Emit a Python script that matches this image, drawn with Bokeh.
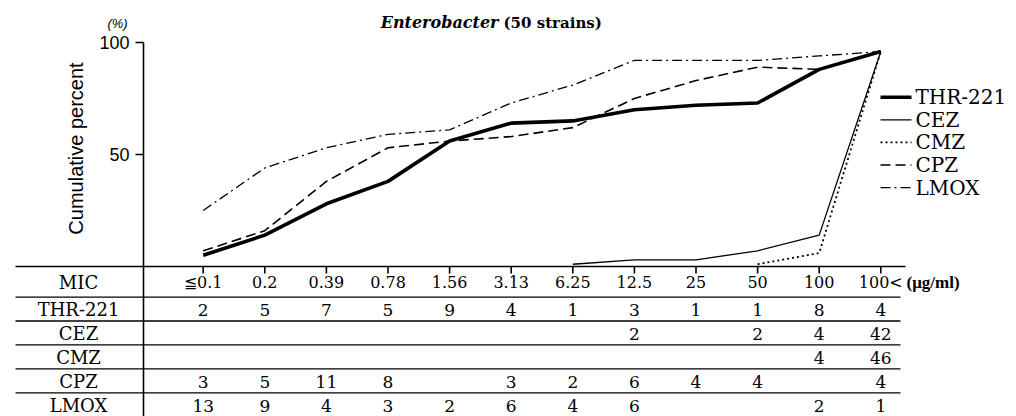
from bokeh.plotting import figure
from bokeh.models import Range1d
from bokeh.core.properties import value
from bokeh.embed import file_html
from bokeh.resources import INLINE
import math

# ---------------- data ----------------
categories = ["≦0.1", "0.2", "0.39", "0.78", "1.56", "3.13", "6.25", "12.5", "25", "50", "100", "100<"]
series_names = ["THR-221", "CEZ", "CMZ", "CPZ", "LMOX"]

# cumulative percent
thr_pct = [5, 14, 28, 38, 56, 64, 65, 70, 72, 73, 88, 96]
cez_pct = [None, None, None, None, None, None, 1, 3, 3, 7, 14, 96]
cmz_pct = [None, None, None, None, None, None, None, None, None, 1, 6, 96]
cpz_pct = [7, 16, 38, 53, 56, 58, 62, 75, 83, 89, 88, 96]
lmox_pct = [25, 44, 53, 59, 61, 73, 81, 92, 92, 92, 94, 96]

# number of strains per MIC (table)
thr_n = [2, 5, 7, 5, 9, 4, 1, 3, 1, 1, 8, 4]
cez_n = [None, None, None, None, None, None, None, 2, None, 2, 4, 42]
cmz_n = [None, None, None, None, None, None, None, None, None, None, 4, 46]
cpz_n = [3, 5, 11, 8, None, 3, 2, 6, 4, 4, None, 4]
lmox_n = [13, 9, 4, 3, 2, 6, 4, 6, None, None, 2, 1]

y_ticks = [50, 100]

# ---------------- layout ----------------
W, H = 1016, 416
X0, S = 202.7, 61.6      # pixel x of first category, spacing
Y0, K = 266.0, 2.24      # pixel y of 0 %, pixels per percent


def dx(px):
    return (px - X0) / S


def dy(py):
    return (Y0 - py) / K


p = figure(width=W, height=H, x_range=Range1d(dx(0), dx(W)), y_range=Range1d(dy(H), dy(0)),
           x_axis_type=None, y_axis_type=None, toolbar_location=None, output_backend="svg",
           min_border=0, min_border_left=0, min_border_right=0, min_border_top=0, min_border_bottom=0)
p.grid.visible = False
p.outline_line_color = None
p.background_fill_color = "white"
p.border_fill_color = "white"

SERIF = value("DejaVu Serif")
SANS = value("Liberation Sans")
INK = "black"

# ---------------- axes ----------------
# y axis line (also the table separator)
p.segment(x0=[dx(143)], y0=[max(y_ticks)], x1=[dx(143)], y1=[dy(H)], line_color=INK, line_width=1.6)
p.segment(x0=[dx(135)] * len(y_ticks), y0=y_ticks, x1=[dx(143)] * len(y_ticks), y1=y_ticks,
          line_color=INK, line_width=1.6)
p.text(x=[dx(129)] * len(y_ticks), y=y_ticks, text=[str(t) for t in y_ticks], text_font=SANS,
       text_font_size="18px", text_align="right", text_baseline="middle", text_color=INK)
p.text(x=[dx(117)], y=[dy(23)], text=["(%)"], text_font=SANS, text_font_size="13px",
       text_font_style="italic", text_align="center", text_baseline="middle", text_color=INK)
p.text(x=[dx(75)], y=[dy(148)], text=["Cumulative percent"], angle=math.pi / 2, text_font=SANS,
       text_font_size="20px", text_align="center", text_baseline="middle", text_color=INK)

# x axis line / table top
p.segment(x0=[dx(15)], y0=[0], x1=[dx(905)], y1=[0], line_color=INK, line_width=1.6)
idx = list(range(len(categories)))
p.segment(x0=idx, y0=[0] * len(idx), x1=idx, y1=[dy(273)] * len(idx), line_color=INK, line_width=1.6)

# ---------------- title ----------------
p.text(x=[dx(498)], y=[dy(22)], text=["Enterobacter"], text_font=SERIF, text_font_size="16px",
       text_font_style="bold italic", text_align="right", text_baseline="middle", text_color=INK)
p.text(x=[dx(503)], y=[dy(22)], text=["(50 strains)"], text_font=SERIF, text_font_size="15px",
       text_font_style="bold", text_align="left", text_baseline="middle", text_color=INK)

# ---------------- curves ----------------
styles = [
    dict(line_width=3.6, line_dash="solid"),
    dict(line_width=1.3, line_dash="solid"),
    dict(line_width=1.8, line_dash="2 3"),
    dict(line_width=1.6, line_dash="10 5"),
    dict(line_width=1.3, line_dash="10 4 2 4"),
]
all_pct = [thr_pct, cez_pct, cmz_pct, cpz_pct, lmox_pct]
for pct, st in zip(all_pct, styles):
    xs = [i for i, v in enumerate(pct) if v is not None]
    ys = [v for v in pct if v is not None]
    p.line(xs, ys, line_color=INK, line_join="round", **st)

# ---------------- legend ----------------
leg_y = [96.7, 119.3, 141.9, 164.5, 187.1]
for name, ly, st in zip(series_names, leg_y, styles):
    p.line([dx(880), dx(911)], [dy(ly), dy(ly)], line_color=INK, **st)
p.text(x=[dx(915)] * len(series_names), y=[dy(v) for v in leg_y], text=series_names, text_font=SERIF,
       text_font_size="20px", text_align="left", text_baseline="middle", text_color=INK)

# ---------------- table ----------------
row_lines = [296.7, 320.5, 344.3, 368.3, 392.3]
p.segment(x0=[dx(15)] * len(row_lines), y0=[dy(v) for v in row_lines],
          x1=[dx(900)] * len(row_lines), y1=[dy(v) for v in row_lines], line_color=INK, line_width=1.3)

row_centers = [281.5, 309, 333, 357, 381, 405]
p.text(x=[dx(78)] * 6, y=[dy(v) for v in row_centers], text=["MIC"] + series_names, text_font=SERIF,
       text_font_size="18px", text_align="center", text_baseline="middle", text_color=INK)

p.text(x=idx, y=[dy(row_centers[0])] * len(idx), text=categories, text_font=SERIF, text_font_size="16px",
       text_align="center", text_baseline="middle", text_color=INK)
p.text(x=[dx(906)], y=[dy(row_centers[0])], text=["(μg/ml)"], text_font=value("Liberation Serif"),
       text_font_size="17px", text_font_style="bold", text_align="left", text_baseline="middle", text_color=INK)

all_n = [thr_n, cez_n, cmz_n, cpz_n, lmox_n]
for r, counts in enumerate(all_n):
    xs = [i for i, n in enumerate(counts) if n is not None]
    ts = [str(n) for n in counts if n is not None]
    p.text(x=xs, y=[dy(row_centers[r + 1])] * len(xs), text=ts, text_font=SERIF, text_font_size="17px",
           text_align="center", text_baseline="middle", text_color=INK)

open("out.html", "w").write(file_html(p, INLINE))
